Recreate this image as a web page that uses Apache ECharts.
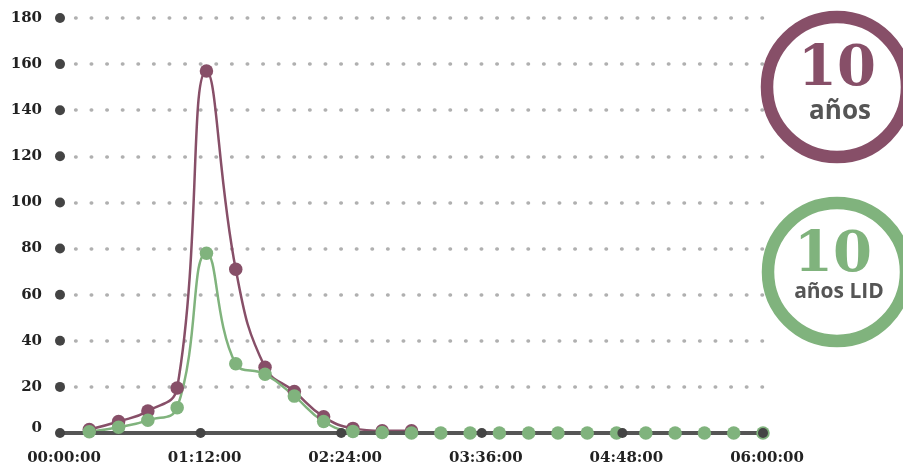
<!DOCTYPE html>
<html>
<head>
<meta charset="utf-8">
<script src="https://cdn.jsdelivr.net/npm/echarts@6/dist/echarts.min.js"></script>
<style>
html,body{margin:0;padding:0;background:#fff;}
#chart{width:903px;height:471px;}
</style>
</head>
<body>
<div id="chart"></div>
<script>
// minutes since start
const timesPurple = [15,30,45,60,75,90,105,120,135,150,165,180];
const valuesPurple = [1.5,5,9.5,19.5,157,71,28.5,18,7,2,1,1];
const timesGreen = [15,30,45,60,75,90,105,120,135,150,165,180,195,210,225,240,255,270,285,300,315,330,345,360];
const valuesGreen = [0.5,2.5,5.5,11,78,30,25.5,16,5,0.7,0.2,0,0,0,0,0,0,0,0,0,0,0,0,0];
const xTickValues = [0,72,144,216,288,360];
const xTickLabels = ['00:00:00','01:12:00','02:24:00','03:36:00','04:48:00','06:00:00'];
const yTickValues = [0,20,40,60,80,100,120,140,160,180];

const PURPLE = '#874f68';
const GREEN = '#80b37d';
const AXIS = '#555555';
const DOT = '#444444';

const purpleData = timesPurple.map((t,i)=>[t,valuesPurple[i]]);
const greenData = timesGreen.map((t,i)=>[t,valuesGreen[i]]);
const axisDots = yTickValues.map(v=>[0,v]).concat(xTickValues.slice(1).map(t=>[t,0]));

const chart = echarts.init(document.getElementById('chart'));
chart.setOption({
  animation:false,
  backgroundColor:'#ffffff',
  grid:{left:60,right:140,top:18,bottom:38,containLabel:false},
  xAxis:{
    type:'value',min:0,max:360,interval:72,z:3,
    axisLine:{show:true,onZero:false,lineStyle:{color:AXIS,width:4}},
    axisTick:{show:false},
    splitLine:{show:false},
    axisLabel:{
      margin:18,color:'#222',fontFamily:'DejaVu Serif',fontWeight:'bold',fontSize:15,
      padding:[0,0,0,8],
      formatter:v=>{const i=xTickValues.indexOf(v);return i>=0?xTickLabels[i]:'';}
    }
  },
  yAxis:{
    type:'value',min:0,max:180,interval:20,
    axisLine:{show:false},axisTick:{show:false},
    splitLine:{show:true,lineStyle:{color:'#b0b0b0',width:3.5,type:[0.5,15.1],cap:'round'}},
    axisLabel:{
      margin:18,color:'#222',fontFamily:'DejaVu Serif',fontWeight:'bold',fontSize:15,
      formatter:v=>v===0?'{z|0}':String(v),
      rich:{z:{fontFamily:'DejaVu Serif',fontWeight:'bold',fontSize:15,color:'#222',padding:[0,0,10,0]}}
    }
  },
  series:[
    {type:'line',data:purpleData,smooth:0.45,showSymbol:false,z:1,
     lineStyle:{color:PURPLE,width:2.5},itemStyle:{color:PURPLE}},
    {type:'line',data:greenData,smooth:0.45,showSymbol:false,z:1,
     lineStyle:{color:GREEN,width:2.5},itemStyle:{color:GREEN}},
    {type:'scatter',data:purpleData,symbolSize:13.5,z:4,itemStyle:{color:PURPLE,opacity:1}},
    {type:'scatter',data:greenData,symbolSize:13.5,z:5,itemStyle:{color:GREEN,opacity:1}},
    {type:'scatter',data:axisDots,symbolSize:10,z:6,clip:false,itemStyle:{color:DOT,opacity:1},silent:true}
  ],
  graphic:[
    {type:'circle',shape:{cx:837,cy:87,r:70},style:{fill:'none',stroke:PURPLE,lineWidth:12.5}},
    {type:'text',x:837,y:70,style:{text:'10',fill:PURPLE,font:'bold 56px "DejaVu Serif"',align:'center',verticalAlign:'middle'}},
    {type:'text',x:840,y:112,style:{text:'años',fill:'#555',font:'bold 26px "Open Sans"',align:'center',verticalAlign:'middle'}},
    {type:'circle',shape:{cx:837,cy:272,r:69},style:{fill:'none',stroke:GREEN,lineWidth:12.5}},
    {type:'text',x:833,y:256,style:{text:'10',fill:GREEN,font:'bold 56px "DejaVu Serif"',align:'center',verticalAlign:'middle'}},
    {type:'text',x:839,y:292,style:{text:'años LID',fill:'#555',font:'bold 21px "Open Sans"',align:'center',verticalAlign:'middle'}}
  ]
});
</script>
</body>
</html>
